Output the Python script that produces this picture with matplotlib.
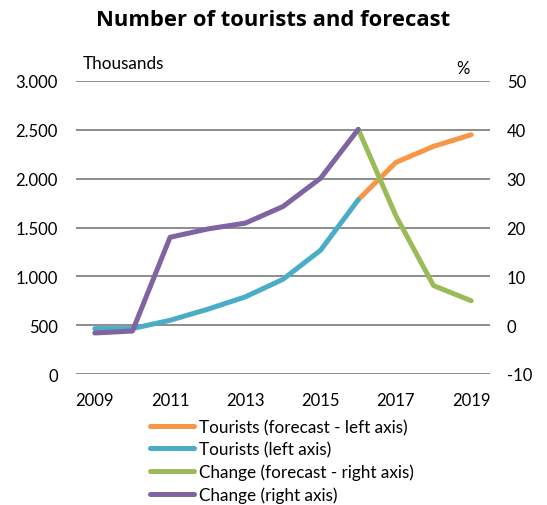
import matplotlib
matplotlib.use("Agg")
import matplotlib.pyplot as plt
from matplotlib.ticker import FuncFormatter

plt.rcParams['font.family'] = ['Lato', 'DejaVu Sans']
plt.rcParams['axes.unicode_minus'] = False

years_hist = [2009, 2010, 2011, 2012, 2013, 2014, 2015, 2016]
tourists_hist = [465, 465, 550, 663, 790, 970, 1268, 1784]
years_fc = [2016, 2017, 2018, 2019]
tourists_fc = [1784, 2167, 2331, 2450]
change_hist = [-1.6, -1.2, 18.0, 19.7, 20.9, 24.3, 30.1, 40.1]
change_fc = [40.1, 22.4, 8.1, 5.0]

labels = ["Tourists (forecast - left axis)", "Tourists (left axis)",
          "Change (forecast - right axis)", "Change (right axis)"]
colors = ["#F79646", "#4BACC6", "#9BBB59", "#8064A2"]
xticks = [2009, 2011, 2013, 2015, 2017, 2019]

fig = plt.figure(figsize=(5.47, 5.06), dpi=100)
ax = fig.add_axes([76/547, 1-375/506, 414/547, 293/506])
ax2 = ax.twinx()

lw = 3.6
h1, = ax.plot(years_fc, tourists_fc, color=colors[0], lw=lw, solid_capstyle='round', zorder=3)
h2, = ax.plot(years_hist, tourists_hist, color=colors[1], lw=lw, solid_capstyle='round', zorder=3)
h3, = ax2.plot(years_fc, change_fc, color=colors[2], lw=lw, solid_capstyle='round', zorder=3)
h4, = ax2.plot(years_hist, change_hist, color=colors[3], lw=lw, solid_capstyle='round', zorder=3)

ax.set_xlim(2008.5, 2019.5)
ax.set_ylim(0, 3000)
ax2.set_ylim(-10, 50)
ax.set_yticks(range(0, 3001, 500))
ax2.set_yticks(range(-10, 51, 10))
ax.set_xticks(xticks)
ax.yaxis.set_major_formatter(FuncFormatter(lambda v, p: f"{int(v):,}".replace(",", ".")))
ax2.yaxis.set_major_formatter(FuncFormatter(lambda v, p: f"{int(v)}"))
ax.grid(axis='y', color='#8c8c8c', lw=1.4)
ax.set_axisbelow(True)
for a in (ax, ax2):
    for s in a.spines.values():
        s.set_visible(False)
    a.tick_params(length=0, labelsize=12, colors='black')
ax.tick_params(axis='y', pad=13)
ax2.tick_params(axis='y', pad=12)
ax.tick_params(axis='x', pad=13)

fig.text(273/547, 1-21/506, "Number of tourists and forecast", ha='center', va='center',
         fontsize=15.8, fontweight='bold', family=['Open Sans', 'DejaVu Sans'])
fig.text(83/547, 1-64/506, "Thousands", ha='left', va='center', fontsize=12.3)
fig.text(463/547, 1-69/506, "%", ha='center', va='center', fontsize=12)

leg = fig.legend([h1, h2, h3, h4], labels, loc='upper left',
                 bbox_to_anchor=(150/547, 1-420/506), frameon=False,
                 prop={'size': 12.3}, handlelength=2.55, handletextpad=0.3,
                 labelspacing=0.36, borderaxespad=0, borderpad=0)

fig.savefig("out.png", dpi=100)
